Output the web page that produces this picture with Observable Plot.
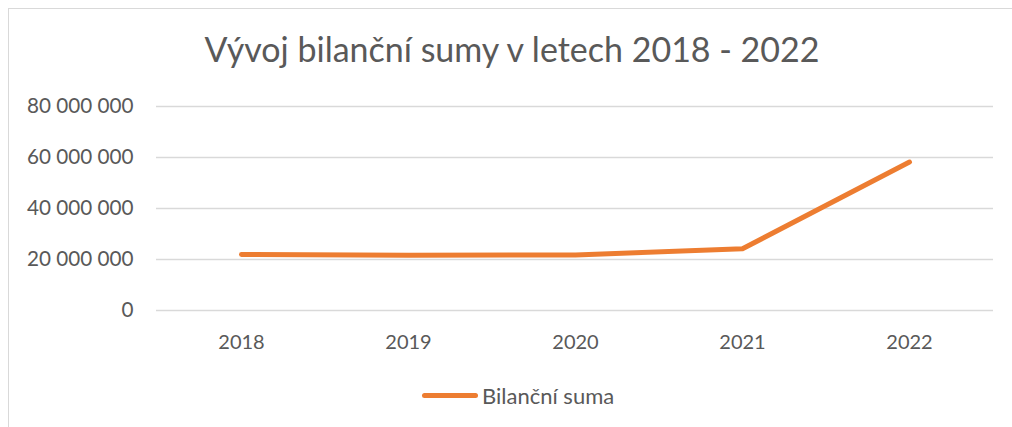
<!DOCTYPE html>
<html>
<head>
<meta charset="utf-8">
<script src="https://cdn.jsdelivr.net/npm/d3@7"></script>
<script src="https://cdn.jsdelivr.net/npm/@observablehq/plot@0.6"></script>
<style>
  html, body { margin: 0; padding: 0; background: #fff; }
  #wrap { position: relative; width: 1012px; height: 427px; overflow: hidden; font-family: Lato, "Open Sans", sans-serif; }
  #frame { position: absolute; left: 8px; top: 8px; width: 1100px; height: 500px; border: 1.5px solid #d9d9d9; box-sizing: border-box; }
  #title { position: absolute; left: 0; width: 1024px; top: 29px; line-height: 40px; text-align: center; font-size: 34px; color: #595959; white-space: nowrap; }
  #chart { position: absolute; left: 0; top: 0; }
  #legend { position: absolute; left: 422px; top: 381px; height: 28px; display: flex; align-items: center; font-size: 22px; color: #595959; white-space: nowrap; }
  #legend .sw { width: 56px; height: 5px; border-radius: 3px; background: #ED7D31; margin-right: 4px; }
</style>
</head>
<body>
<div id="wrap">
  <div id="frame"></div>
  <div id="chart"></div>
  <div id="title">Vývoj bilanční sumy v letech 2018 - 2022</div>
  <div id="legend"><span class="sw"></span><span>Bilanční suma</span></div>
</div>
<script>
const years = ["2018", "2019", "2020", "2021", "2022"];
const values = [22000000, 21700000, 21800000, 24200000, 58200000];
const yTicks = [0, 20000000, 40000000, 60000000, 80000000];
const seriesName = "Bilanční suma";

const data = years.map((y, i) => ({year: y, value: values[i], series: seriesName}));
const fmt = v => d3.format(",")(v).replace(/,/g, " ");

const chart = Plot.plot({
  width: 1012,
  height: 427,
  marginTop: 106,
  marginBottom: 117,
  marginLeft: 156,
  marginRight: 19,
  style: {fontFamily: "Lato, 'Open Sans', sans-serif", fontSize: "20px", color: "#595959", background: "transparent"},
  x: {type: "point", domain: years, padding: 0.5, label: null},
  y: {domain: [0, 80000000], label: null},
  marks: [
    Plot.gridY(yTicks, {stroke: "#d9d9d9", strokeOpacity: 1, strokeWidth: 1.5}),
    Plot.axisY(yTicks, {tickSize: 0, tickPadding: 23, tickFormat: fmt, fill: "#595959", fontSize: 20.7}),
    Plot.axisX(years, {tickSize: 0, tickPadding: 24, fill: "#595959", fontSize: 20}),
    Plot.line(data, {x: "year", y: "value", stroke: "#ED7D31", strokeWidth: 5, strokeLinecap: "round", strokeLinejoin: "round"})
  ]
});
document.getElementById("chart").appendChild(chart);
</script>
</body>
</html>
